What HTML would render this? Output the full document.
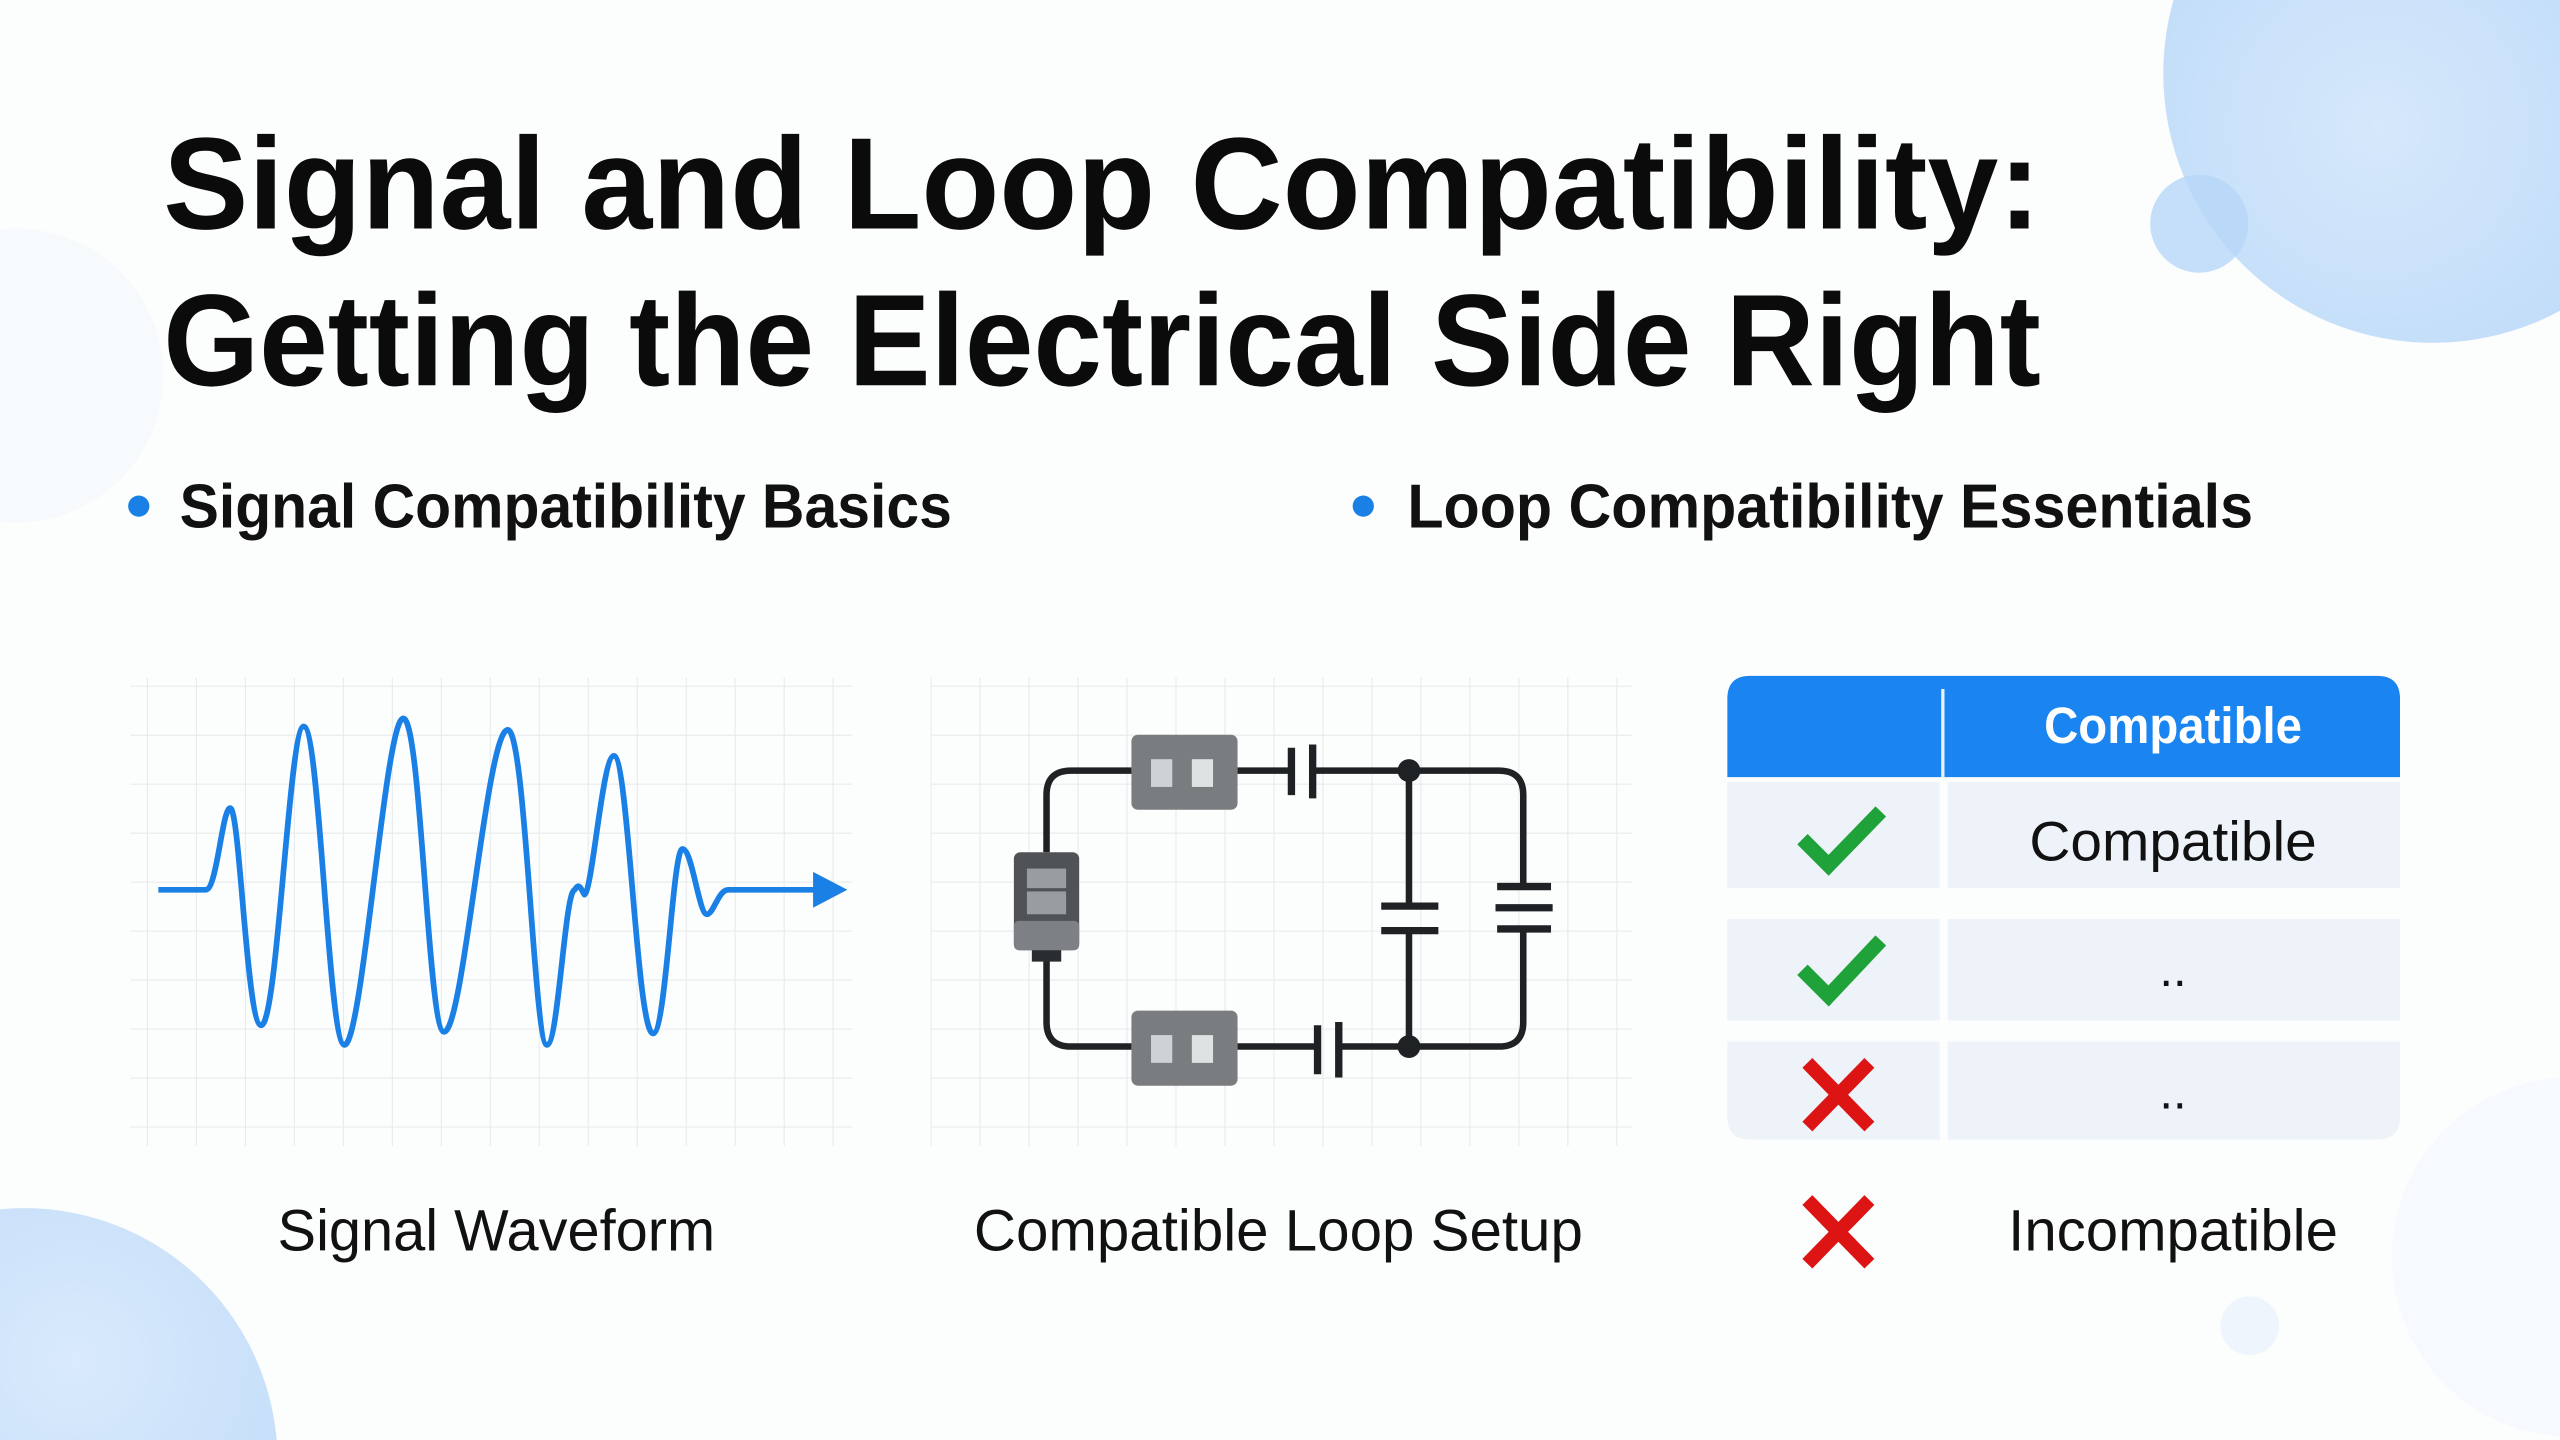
<!DOCTYPE html>
<html><head><meta charset="utf-8"><style>
html,body{margin:0;padding:0;background:#fff;width:2560px;height:1440px;overflow:hidden;}
svg{display:block;overflow:hidden;}
text{font-family:"Liberation Sans",sans-serif;}
</style></head><body>
<svg width="2560" height="1440" viewBox="0 0 1568 882" preserveAspectRatio="none" xmlns="http://www.w3.org/2000/svg">
<defs>
<radialGradient id="g1" cx="0.4" cy="0.6" r="0.7"><stop offset="0" stop-color="#d6e8fb"/><stop offset="1" stop-color="#b9d8f8"/></radialGradient>
<radialGradient id="g2" cx="0.6" cy="0.3" r="0.8"><stop offset="0" stop-color="#d9eafc"/><stop offset="1" stop-color="#b7d6f7"/></radialGradient>
<pattern id="grid" width="30" height="30" patternUnits="userSpaceOnUse"><path d="M0 0H30M0 0V30" fill="none" stroke="#e6e8ea" stroke-width="1.2"/></pattern>
<clipPath id="frame"><rect x="0" y="0" width="1568" height="882"/></clipPath>
</defs>
<g clip-path="url(#frame)">
<rect width="1568" height="882" fill="#fcfdfd"/>
<circle cx="1490" cy="45" r="165" fill="url(#g1)"/>
<circle cx="1347" cy="137" r="30" fill="#b6d6f8" opacity="0.8"/>
<circle cx="15" cy="895" r="155" fill="url(#g2)"/>
<circle cx="10" cy="230" r="90" fill="#f3f8fd" opacity="0.6"/>
<circle cx="1575" cy="770" r="110" fill="#f3f8fd" opacity="0.7"/>
<circle cx="1378" cy="812" r="18" fill="#eef5fc"/>
</g>

<text x="100" y="140" font-size="80" font-weight="bold" fill="#0b0b0b" textLength="1150" lengthAdjust="spacingAndGlyphs">Signal and Loop Compatibility:</text>
<text x="100" y="236" font-size="80" font-weight="bold" fill="#0b0b0b" textLength="1150" lengthAdjust="spacingAndGlyphs">Getting the Electrical Side Right</text>

<circle cx="85" cy="310" r="6.5" fill="#1a80e6"/>
<text x="110" y="323" font-size="38" font-weight="bold" fill="#111" textLength="473" lengthAdjust="spacingAndGlyphs">Signal Compatibility Basics</text>
<circle cx="835" cy="310" r="6.5" fill="#1a80e6"/>
<text x="862" y="323" font-size="38" font-weight="bold" fill="#111" textLength="518" lengthAdjust="spacingAndGlyphs">Loop Compatibility Essentials</text>

<rect x="80" y="415" width="442" height="287" fill="url(#grid)"/>
<rect x="570" y="415" width="430" height="287" fill="url(#grid)"/>

<path d="M97 545 L126 545 C133 545 136 495 141 495 C147 495 151 628 160 628 C170 628 177 445 186 445 C196 445 201 640 211 640 C222 640 236 440 247 440 C258 440 262 632 272 632 C284 632 298 447 311 447 C322 447 327 640 335 640 C342 640 346 545 352 545 C355 540 356 545 358 548 C363 545 369 463 376 463 C385 463 390 633 400 633 C408 633 412 520 418 520 C424 520 428 560 433 560 C437 560 440 545 446 545 L502 545" fill="none" stroke="#1a80e6" stroke-width="3.5" stroke-linejoin="round"/>
<polygon points="498,534 519,545 498,556" fill="#1a80e6"/>

<g stroke="#1f2224" stroke-width="4" fill="none">
<path d="M693 472 H656 Q641 472 641 487 V522"/>
<path d="M641 588 V626 Q641 641 656 641 H693"/>
<path d="M758 472 H791 M804 472 H918 Q933 472 933 487 V543"/>
<path d="M933 569 V626 Q933 641 918 641 H820 M807 641 H758"/>
<path d="M863 472 V555 M863 570 V641"/>
</g>
<g stroke="#1f2224" stroke-width="4.5">
<path d="M791 458 V487 M804 456 V489"/>
<path d="M807 628 V658 M820 626 V660"/>
<path d="M846 555 H881 M846 570 H881"/>
<path d="M917 543 H950 M916 556 H951 M917 569 H950"/>
</g>
<circle cx="863" cy="472" r="7" fill="#1f2224"/>
<circle cx="863" cy="641" r="7" fill="#1f2224"/>
<rect x="693" y="450" width="65" height="46" rx="4" fill="#7a7d80"/>
<rect x="705" y="465" width="13" height="17" fill="#cfd2d4"/><rect x="730" y="465" width="13" height="17" fill="#dfe2e3"/>
<rect x="693" y="619" width="65" height="46" rx="4" fill="#7a7d80"/>
<rect x="705" y="634" width="13" height="17" fill="#cfd2d4"/><rect x="730" y="634" width="13" height="17" fill="#dfe2e3"/>
<rect x="621" y="522" width="40" height="60" rx="4" fill="#4f5356"/>
<rect x="621" y="564" width="40" height="18" rx="3" fill="#7d8084"/>
<rect x="629" y="532" width="24" height="12" fill="#9a9d9f"/><rect x="629" y="546" width="24" height="14" fill="#9a9d9f"/>
<rect x="632" y="582" width="18" height="7" fill="#2a2d2f"/>

<text x="304" y="766" font-size="36" fill="#111" text-anchor="middle" textLength="268" lengthAdjust="spacingAndGlyphs">Signal Waveform</text>
<text x="783" y="766" font-size="36" fill="#111" text-anchor="middle" textLength="373" lengthAdjust="spacingAndGlyphs">Compatible Loop Setup</text>

<path d="M1058 476 V428 Q1058 414 1072 414 H1456 Q1470 414 1470 428 V476 Z" fill="#1a84f0"/>
<rect x="1189" y="422" width="2" height="54" fill="#e8f2fd"/>
<text x="1331" y="455" font-size="31" font-weight="bold" fill="#fff" text-anchor="middle" textLength="158" lengthAdjust="spacingAndGlyphs">Compatible</text>
<rect x="1058" y="479" width="130" height="65" fill="#edf3f9"/>
<rect x="1193" y="479" width="277" height="65" fill="#edf3f9"/>
<rect x="1058" y="563" width="130" height="62" fill="#edf3f9"/>
<rect x="1193" y="563" width="277" height="62" fill="#edf3f9"/>
<path d="M1058 638 H1188 V698 H1072 Q1058 698 1058 684 Z" fill="#edf3f9"/>
<path d="M1193 638 H1470 V684 Q1470 698 1456 698 H1193 Z" fill="#edf3f9"/>
<text x="1331" y="527" font-size="34" fill="#111" text-anchor="middle" textLength="176" lengthAdjust="spacingAndGlyphs">Compatible</text>
<text x="1331" y="604" font-size="30" fill="#111" text-anchor="middle">..</text>
<text x="1331" y="679" font-size="30" fill="#111" text-anchor="middle">..</text>
<text x="1331" y="766" font-size="36" fill="#111" text-anchor="middle" textLength="202" lengthAdjust="spacingAndGlyphs">Incompatible</text>
<g stroke="#1fa23a" stroke-width="9" fill="none" stroke-linejoin="miter">
<path d="M1104 514 L1120 530 L1152 497"/>
<path d="M1104 594 L1120 610 L1152 576"/>
</g>
<g stroke="#dd1414" stroke-width="8.5">
<path d="M1107 651 L1145 690 M1145 651 L1107 690"/>
<path d="M1107 735 L1145 774 M1145 735 L1107 774"/>
</g>
</svg>
</body></html>
